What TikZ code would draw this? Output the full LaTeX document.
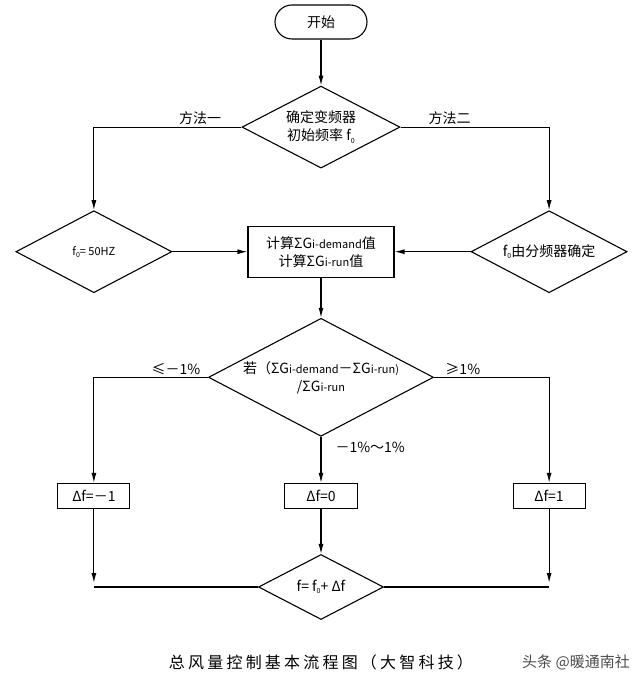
\documentclass[tikz,border=0pt]{standalone}
\usepackage{fontspec}
\setmainfont{Noto Sans CJK SC}
\newfontfamily\titlecjk[LetterSpace=20]{Noto Sans CJK SC}
\usepackage{tikz}
\usetikzlibrary{arrows.meta, positioning, shapes.geometric}
\newcommand{\lowsub}[1]{\raisebox{-0.35ex}{\fontsize{7}{8}\selectfont #1}}
\newcommand{\smalltx}[1]{{\fontsize{11}{13}\selectfont #1}}

\begin{document}
\begin{tikzpicture}[
    >={Latex[length=10pt,width=5pt]},
    every node/.style={inner sep=2pt},
    startend/.style={rectangle, rounded corners=17pt, draw, line width=1.1pt,
                     minimum width=92pt, minimum height=34pt,
                     font=\fontsize{14}{18}\selectfont},
    decision/.style={diamond, aspect=2, draw, line width=1.1pt, inner sep=0pt, align=center,
                     font=\fontsize{14}{18}\selectfont},
    process/.style={rectangle, draw, line width=1.1pt, align=center,
                    font=\fontsize{14}{18}\selectfont},
    arr/.style={->, line width=1.1pt},
    plain/.style={line width=1.1pt},
    edgelabel/.style={font=\fontsize{14}{18}\selectfont}
]
\path[use as bounding box] (-321pt,22pt) rectangle (319pt,-654pt);

% --- Nodes --------------------------------------------------------------
\node[startend]                               (start)   {开始};
\node[decision, minimum width=158pt, minimum height=82pt,
      below=46pt of start]                    (choose)  {确定变频器\\初始频率 f\lowsub{0}};
\node[process, minimum width=146pt, minimum height=51pt,
      below=57pt of choose]                   (calc)    {计算ΣG\smalltx{i-demand}值\\计算ΣG\smalltx{i-run}值};
\node[decision, minimum width=156pt, minimum height=82pt,
      left=75pt of calc]                      (fixed)   {\smalltx{f\lowsub{0}= 50HZ}};
\node[decision, minimum width=156pt, minimum height=82pt,
      right=76pt of calc]                     (divider) {f\lowsub{0}由分频器确定};
\node[decision, minimum width=225pt, minimum height=118pt, inner xsep=-15pt,
      below=40pt of calc]                     (ratio)   {若（ΣG\smalltx{i-demand}－ΣG\smalltx{i-run)}\\/ΣG\smalltx{i-run}};
\node[process, minimum width=73pt, minimum height=25pt,
      below=46pt of ratio]                    (zero)    {Δf=0};
\node[process, minimum width=72pt, minimum height=25pt]
      at (fixed |- zero)                      (minus)   {Δf=－1};
\node[process, minimum width=72pt, minimum height=25pt]
      at (divider |- zero)                    (plus)    {Δf=1};
\node[decision, minimum width=125pt, minimum height=65pt,
      below=45pt of zero]                     (update)  {f= f\lowsub{0}+ Δf};

% --- Caption ------------------------------------------------------------
\node[font=\titlecjk\fontsize{16}{18}\selectfont]
      at ([yshift=-75pt]update.center)        (caption) {总风量控制基本流程图（大智科技）};
\node[font=\fontsize{15}{18}\selectfont, text=black!70]
      at ([xshift=255pt]caption.center)       (mark)    {头条 @暖通南社};

% --- Flow ---------------------------------------------------------------
\draw[arr] (start) -- (choose);
\draw[arr] (choose.west) -| node[edgelabel, pos=0.14, above] {方法一} (fixed.north);
\draw[arr] (choose.east) -| node[edgelabel, pos=0.165, above] {方法二} (divider.north);
\draw[arr] (fixed)   -- (calc);
\draw[arr] (divider) -- (calc);
\draw[arr] (calc)    -- (ratio);

\draw[arr] (ratio.west) -| node[edgelabel, pos=0.14, above] {≤－1\%} (minus.north);
\draw[arr] (ratio.east) -| node[edgelabel, pos=0.125, above] {≥1\%} (plus.north);
\draw[arr] (ratio) -- node[edgelabel, pos=0.22, right=12pt] {－1\%～1\%} (zero);
\draw[arr] (zero)  -- (update);

% side boxes join the last step
\coordinate (joinL) at (minus |- update);
\coordinate (joinR) at (plus |- update);
\draw[arr, shorten >=4pt] (minus) -- (joinL);
\draw[plain] (joinL) -- (update.west);
\draw[arr, shorten >=4pt] (plus) -- (joinR);
\draw[plain] (joinR) -- (update.east);

\end{tikzpicture}
\end{document}
